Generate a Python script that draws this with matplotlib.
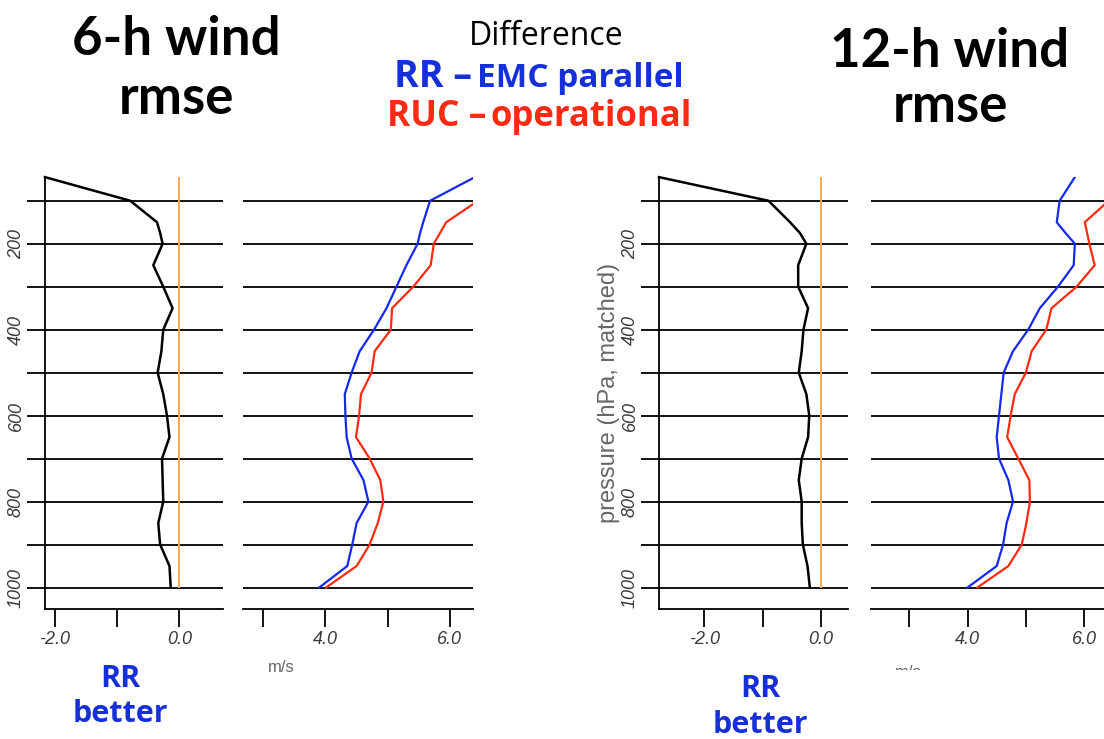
import matplotlib
matplotlib.use("Agg")
import matplotlib.pyplot as plt
from matplotlib.transforms import Bbox, TransformedBbox

W, H = 1104, 739

# pressure levels (hPa) of the profiles
levels = [45, 100, 150, 175, 200, 250, 300, 350, 400, 450, 500, 550, 600,
          650, 700, 750, 800, 850, 900, 950, 1000]

# 6-h: RR minus RUC wind rmse difference
diff_6h = [-2.16, -0.79, -0.36, -0.31, -0.27, -0.42, -0.26, -0.11, -0.26, -0.29, -0.35,
           -0.26, -0.20, -0.16, -0.28, -0.27, -0.26, -0.34, -0.31, -0.16, -0.14]
# 6-h rmse, RR (blue) and RUC (red)
rr_6h = [6.40, 5.68, 5.57, 5.52, 5.48, 5.30, 5.14, 4.98, 4.78, 4.55, 4.42,
         4.31, 4.32, 4.34, 4.42, 4.61, 4.69, 4.50, 4.43, 4.35, 3.90]
ruc_levels_6h = [100, 150, 200, 250, 300, 350, 400, 450, 500, 550, 600, 650,
                 700, 750, 800, 850, 900, 950, 1000]
ruc_6h = [6.45, 5.94, 5.74, 5.69, 5.41, 5.07, 5.05, 4.79, 4.74, 4.57, 4.54, 4.49,
          4.71, 4.88, 4.93, 4.84, 4.71, 4.50, 4.01]

# 12-h
diff_12h = [-2.78, -0.90, -0.53, -0.36, -0.25, -0.39, -0.39, -0.22, -0.30, -0.33, -0.38,
            -0.25, -0.20, -0.22, -0.33, -0.38, -0.33, -0.33, -0.31, -0.23, -0.19]
rr_12h = [5.84, 5.58, 5.53, 5.68, 5.84, 5.82, 5.55, 5.24, 5.04, 4.78, 4.62,
          4.58, 4.54, 4.50, 4.54, 4.70, 4.78, 4.67, 4.61, 4.50, 4.00]
ruc_levels_12h = [100, 150, 200, 250, 300, 350, 400, 450, 500, 550, 600, 650,
                  700, 750, 800, 850, 900, 950, 1000]
ruc_12h = [6.42, 6.01, 6.09, 6.18, 5.87, 5.44, 5.35, 5.10, 5.00, 4.81, 4.74, 4.68,
           4.87, 5.06, 5.07, 5.01, 4.93, 4.70, 4.17]

grid_levels = [100, 200, 300, 400, 500, 600, 700, 800, 900, 1000]
grid_labels = ['', '200', '', '400', '', '600', '', '800', '', '1000']

diff_ticks = [-2.0, -1.0, 0.0]
diff_ticklabels = ['-2.0', '', '0.0']
rmse_ticks = [3.0, 4.0, 5.0, 6.0]
rmse_ticklabels = ['', '4.0', '', '6.0']

BLUE = '#1428F0'
RED = '#FF2A10'
ORANGE = '#F6A84A'
TXT_BLUE = '#1530D8'
TXT_RED = '#FF2A14'
GREY = '#3a3a3a'


def px_axes(fig, x0, x1, top=176.7, bottom=609):
    return fig.add_axes([x0 / W, 1 - bottom / H, (x1 - x0) / W, (bottom - top) / H])


def style(ax, xlim, xticks, xlabels, left_spine):
    ax.set_ylim(1050, 44)
    ax.set_xlim(*xlim)
    for s in ['top', 'right']:
        ax.spines[s].set_visible(False)
    ax.spines['left'].set_visible(left_spine)
    ax.spines['bottom'].set_linewidth(1.3)
    ax.spines['left'].set_linewidth(1.3)
    ax.set_yticks(grid_levels)
    ax.grid(axis='y', color='black', lw=1.3)
    ax.set_axisbelow(True)
    if left_spine:
        ax.set_yticklabels(grid_labels, rotation=90, va='center', fontstyle='italic',
                           fontsize=13, color=GREY, family='Liberation Sans')
        ax.tick_params(axis='y', length=13, width=1.3, pad=1.5)
    else:
        ax.tick_params(axis='y', length=0, labelleft=False)
    ax.set_xticks(xticks)
    ax.set_xticklabels(xlabels, fontstyle='italic', fontsize=13, color=GREY,
                       family='Liberation Sans')
    ax.tick_params(axis='x', length=13, width=1.3, pad=3)


fig = plt.figure(figsize=(W / 100, H / 100), dpi=100)

# 6-h difference
ax1 = px_axes(fig, 45, 223)
style(ax1, (-2.16, 0.70), diff_ticks, diff_ticklabels, True)
ax1.vlines(0, 45, 1000, color=ORANGE, lw=1.4, zorder=2)
ax1.plot(diff_6h, levels, color='black', lw=1.8, zorder=3, clip_on=False)

# 6-h rmse
ax2 = px_axes(fig, 242.7, 473)
style(ax2, (2.67, 6.37), rmse_ticks, rmse_ticklabels, False)
ax2.plot(rr_6h, levels, color=BLUE, lw=1.6, zorder=3)
ax2.plot(ruc_6h, ruc_levels_6h, color=RED, lw=1.6, zorder=3)

# 12-h difference
ax3 = px_axes(fig, 659, 847.7)
style(ax3, (-2.78, 0.46), diff_ticks, diff_ticklabels, True)
ax3.vlines(0, 45, 1000, color=ORANGE, lw=1.4, zorder=2)
ax3.plot(diff_12h, levels, color='black', lw=1.8, zorder=3, clip_on=False)
ax3.set_ylabel('pressure (hPa, matched)', fontsize=17, color='#666666',
               family='Liberation Sans', labelpad=1)

# 12-h rmse
ax4 = px_axes(fig, 870.7, 1104)
style(ax4, (2.34, 6.34), rmse_ticks, rmse_ticklabels, False)
ax4.plot(rr_12h, levels, color=BLUE, lw=1.6, zorder=3)
ax4.plot(ruc_12h, ruc_levels_12h, color=RED, lw=1.6, zorder=3)


def ftext(x, y, s, **kw):
    return fig.text(x / W, 1 - y / H, s, **kw)


title_font = dict(family='Lato', fontweight='bold', color='black', ha='center', va='baseline')
ftext(176, 55, '6-h wind', fontsize=38, **title_font)
ftext(176, 114, 'rmse', fontsize=38, **title_font)
ftext(950, 67, '12-h wind', fontsize=38, **title_font)
ftext(950, 122, 'rmse', fontsize=38, **title_font)

ftext(546, 45, 'Difference', fontsize=23, family='Open Sans', color='black',
      ha='center', va='baseline')
ftext(472, 87, 'RR \u2013', fontsize=27, family='Open Sans', fontweight='bold', color=TXT_BLUE,
      ha='right', va='baseline')
ftext(477, 87, 'EMC parallel', fontsize=24, family='Open Sans', fontweight='bold',
      color=TXT_BLUE, ha='left', va='baseline')
ftext(486, 126, 'RUC \u2013', fontsize=25.5, family='Open Sans', fontweight='bold', color=TXT_RED,
      ha='right', va='baseline')
ftext(491, 126, 'operational', fontsize=25, family='Open Sans', fontweight='bold',
      color=TXT_RED, ha='left', va='baseline')

rr_font = dict(fontsize=22, family='Open Sans', fontweight='bold', color=TXT_BLUE,
               ha='center', va='baseline')
ftext(120, 687, 'RR', **rr_font)
ftext(120, 722, 'better', **rr_font)
ftext(760, 697, 'RR', **rr_font)
ftext(760, 733, 'better', **rr_font)

ftext(281, 672, 'm/s', fontsize=12, family='Liberation Sans', color='#666666',
      ha='center', va='baseline')
ms = ftext(908, 677, 'm/s', fontsize=12, family='Liberation Sans', color='#666666',
           ha='center', va='baseline')
# the lower part of the second unit label is cut off in the original slide
ms.set_clip_box(TransformedBbox(Bbox([[0, 1 - 670 / H], [1, 1]]), fig.transFigure))
ms.set_clip_on(True)

fig.savefig('out.png', dpi=100)
